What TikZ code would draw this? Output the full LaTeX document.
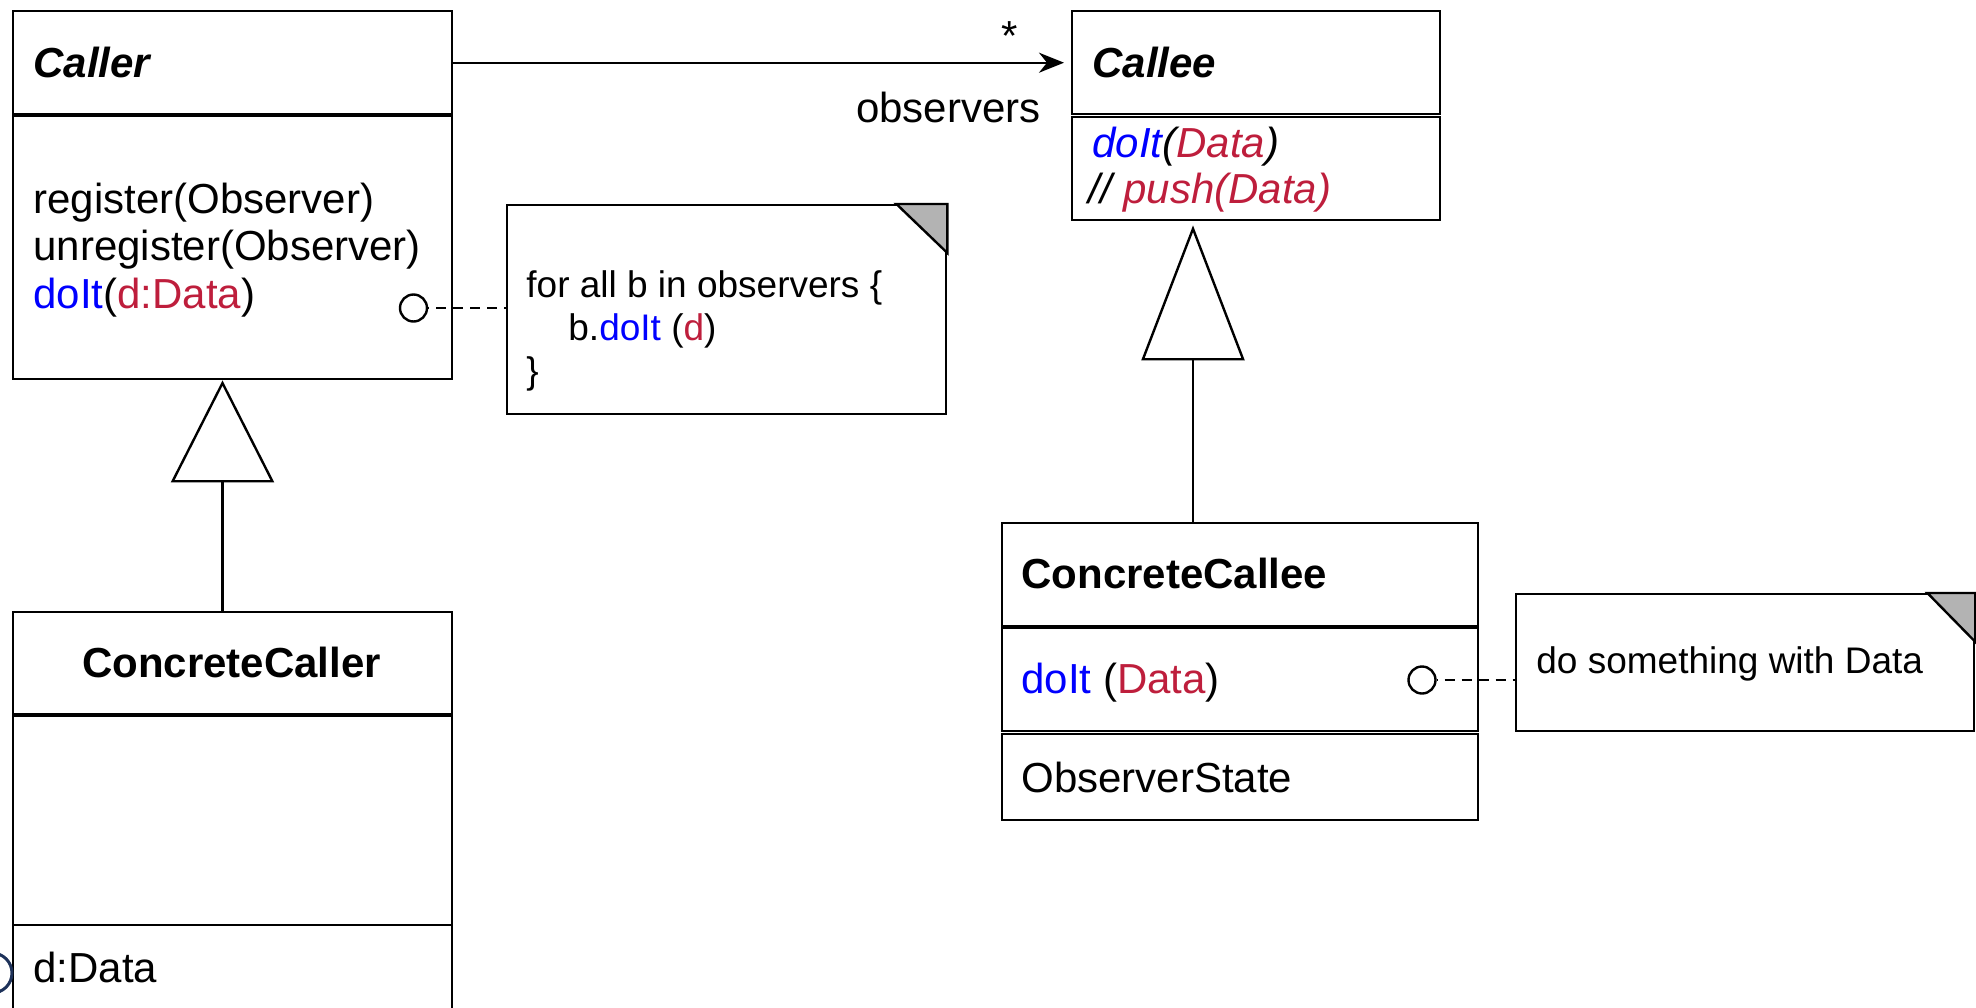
\documentclass[tikz,border=0pt]{standalone}
\usepackage{fontspec}
\setmainfont{Liberation Sans}
\usetikzlibrary{arrows.meta,calc}
\definecolor{umlblue}{RGB}{0,0,255}
\definecolor{umlred}{RGB}{190,30,60}
\definecolor{notegray}{RGB}{179,179,179}
\definecolor{logonavy}{RGB}{30,50,90}
\begin{document}
\begin{tikzpicture}[x=0.5pt,y=-0.5pt,
  box/.style={draw, line width=1.2pt, inner sep=0pt, anchor=north west},
  big/.style={font=\fontsize{21}{25}\selectfont, inner sep=0pt, anchor=base west},
  small/.style={font=\fontsize{18.5}{22}\selectfont, inner sep=0pt, anchor=base west},
  lolli/.style={draw, circle, line width=1.2pt, minimum size=13.5pt, inner sep=0pt},
  notelink/.style={line width=1.2pt, dash pattern=on 5pt off 3.5pt, dash phase=-4pt},
  gen/.style={line width=1.2pt, -{Triangle[open, length=#1, width=51.5pt, line width=1.2pt]}},
  assoc/.style={line width=1.2pt, -{Stealth[length=12.5pt, width=10pt, inset=4pt]}, shorten >=3.5pt},
  dogear/.style={fill=notegray, line width=1.2pt}
]
\clip (0,0) rectangle (1976,1007);

% Caller
\node[box, minimum width=219.5pt, minimum height=51.5pt] (callerHead) at (12,10) {};
\node[box, minimum width=219.5pt, minimum height=131.5pt] (callerBody) at (12,115) {};
\node[big, font=\fontsize{21}{25}\selectfont\bfseries\itshape] (callerName) at (33,77) {Caller};
\node[big] (callerM1) at (33,213) {register(Observer)};
\node[big] (callerM2) at (33,260) {unregister(Observer)};
\node[big] (callerM3) at (33,308) {\textcolor{umlblue}{doIt}(\textcolor{umlred}{d:Data})};

% Callee
\node[box, minimum width=184pt, minimum height=51.5pt] (calleeHead) at (1071,10) {};
\node[box, minimum width=184pt, minimum height=51.5pt] (calleeBody) at (1071,116) {};
\node[big, font=\fontsize{21}{25}\selectfont\bfseries\itshape] (calleeName) at (1092,77) {Callee};
\node[big, font=\fontsize{21}{25}\selectfont\itshape] (calleeM1) at (1092,157) {\textcolor{umlblue}{doIt}(\textcolor{umlred}{Data})};
\node[big, font=\fontsize{21}{25}\selectfont\itshape] (calleeM2) at (1088,203) {// \textcolor{umlred}{push(Data)}};

% ConcreteCaller
\node[box, minimum width=219.5pt, minimum height=51pt] (ccHead) at (12,611) {};
\node[box, minimum width=219.5pt, minimum height=104.5pt] (ccBody) at (12,715) {};
\node[box, minimum width=219.5pt, minimum height=60pt] (ccAttr) at (12,924) {};
\node[big, anchor=base, font=\fontsize{21}{25}\selectfont\bfseries] (ccName) at (231.5,677) {ConcreteCaller};
\node[big] (ccA1) at (33,982) {d:Data};

% ConcreteCallee
\node[box, minimum width=238pt, minimum height=51.5pt] (ceHead) at (1001,522) {};
\node[box, minimum width=238pt, minimum height=51.5pt] (ceBody) at (1001,627) {};
\node[box, minimum width=238pt, minimum height=43pt] (ceAttr) at (1001,733) {};
\node[big, font=\fontsize{21}{25}\selectfont\bfseries] (ceName) at (1021,588) {ConcreteCallee};
\node[big] (ceM1) at (1021,693) {\textcolor{umlblue}{doIt} (\textcolor{umlred}{Data})};
\node[big] (ceA1) at (1021,792) {ObserverState};

% Notes
\node[box, minimum width=219.5pt, minimum height=104.5pt] (note1) at (506,204) {};
\filldraw[dogear] ([xshift=-25.5pt]note1.north east) -- (note1.north east) -- ([yshift=-24.5pt]note1.north east) -- cycle;
\node[small] (n1l1) at (526,297) {for all b in observers \{};
\node[small] (n1l2) at (568,340) {b.\textcolor{umlblue}{doIt} (\textcolor{umlred}{d})};
\node[small] (n1l3) at (526,383) {\}};

\node[box, minimum width=229pt, minimum height=68.5pt] (note2) at (1515,593) {};
\filldraw[dogear] ([xshift=-24pt]note2.north east) -- (note2.north east) -- ([yshift=-24.5pt]note2.north east) -- cycle;
\node[small] (n2l1) at (1536,673) {do something with Data};

% Lollipops and note links
\node[lolli] (l1) at (413.5,308) {};
\draw[notelink] (l1.east) -- (l1.east -| note1.west);
\node[lolli] (l2) at (1422,680) {};
\draw[notelink] (l2.east) -- (l2.east -| note2.west);

% Association
\draw[assoc] (callerHead.east) -- (calleeHead.west);
\node[big, anchor=base] (mult) at (1010,50) {*};
\node[big, anchor=base east] (role) at (1041,122) {observers};

% Generalizations
\draw[gen=51pt] ([xshift=105.25pt]ccHead.north west) -- ([xshift=105.25pt]callerBody.south west);
\draw[gen=67.5pt, shorten >=2pt] ([xshift=96pt]ceHead.north west) -- ([xshift=61pt]calleeBody.south west);

% partial logo at the lower left edge
\draw[logonavy, line width=1.5pt] (-8,973) circle [radius=10pt];
\end{tikzpicture}
\end{document}
